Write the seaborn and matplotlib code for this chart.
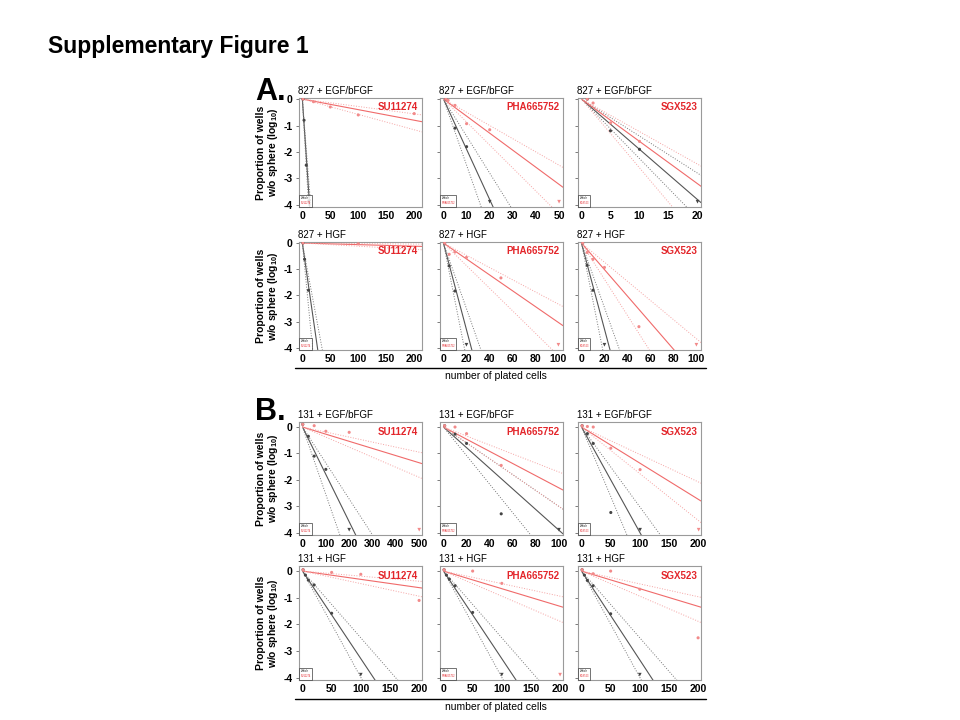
import numpy as np
import pandas as pd
import seaborn as sns
import matplotlib.pyplot as plt
from matplotlib.lines import Line2D

# panel layout: 4 rows x 3 columns, row-major
titles = ["827 + EGF/bFGF"] * 3 + ["827 + HGF"] * 3 + ["131 + EGF/bFGF"] * 3 + ["131 + HGF"] * 3
drugs = ["SU11274", "PHA665752", "SGX523"] * 4
x_max = [200, 50, 20, 200, 100, 100, 500, 100, 200, 200, 200, 200]
x_step = [50, 10, 5, 50, 20, 20, 100, 20, 50, 50, 50, 50]
x_hi = [214, 51.7, 20.6, 214, 104, 104, 512, 103.5, 204, 205, 205, 205]

# vehicle (black) points, None = no well without sphere (plotted as triangle)
ctrl_x = [[1, 3, 7, 12], [1, 5, 10, 20], [1, 5, 10, 20],
          [1, 4, 11], [1, 5, 10, 20], [1, 5, 10, 20],
          [1, 25, 50, 100, 200], [1, 10, 20, 50, 100], [1, 10, 20, 50, 100],
          [1, 5, 10, 20, 50, 100], [1, 5, 10, 20, 50, 100], [1, 5, 10, 20, 50, 100]]
ctrl_y = [[0, -0.8, -2.5, None], [0, -1.1, -1.8, None], [0, -1.2, -1.9, None],
          [0, -0.62, -1.8], [0, -0.87, -1.83, None], [0, -0.85, -1.8, None],
          [0.1, -0.35, -1.1, -1.6, None], [0.05, -0.27, -0.62, -3.28, None], [0.05, -0.25, -0.62, -3.23, None],
          [0.05, -0.15, -0.34, -0.52, -1.58, None], [0.05, -0.15, -0.3, -0.55, -1.55, None],
          [0.05, -0.15, -0.35, -0.55, -1.6, None]]
# drug (red) points
drug_x = [[1, 20, 50, 100, 200], [1, 2, 5, 10, 20, 50], [1, 2, 5, 10],
          [1, 100], [1, 5, 10, 20, 50, 100], [1, 5, 10, 20, 50, 100],
          [1, 50, 100, 200, 500], [1, 10, 20, 50], [1, 10, 20, 50, 100, 200],
          [1, 50, 100, 200], [1, 50, 100, 200], [1, 20, 50, 100, 200]]
drug_y = [[0, -0.1, -0.3, -0.6, -0.55], [0, -0.05, -0.24, -0.93, -1.16, None], [0, -0.15, -0.9, -1.6],
          [0, -0.03], [0, -0.43, -0.34, -0.55, -1.33, None], [0, -0.36, -0.62, -0.93, -3.19, None],
          [0.1, 0.05, -0.16, -0.2, None], [0.05, 0.0, -0.25, -1.45], [0.05, 0.02, 0.0, -0.8, -1.61, None],
          [0.05, -0.05, -0.12, -1.1], [0.05, 0.0, -0.46, None], [0.05, -0.1, 0.0, -0.68, -2.5]]

# fitted log10 decline per plated cell: (estimate, upper CI, lower CI)
ctrl_rate = [(0.31, 0.27, 0.36), (0.19, 0.14, 0.25), (0.19, 0.14, 0.225),
             (0.148, 0.114, 0.22), (0.165, 0.125, 0.22), (0.164, 0.123, 0.22),
             (0.0179, 0.0136, 0.0255), (0.039, 0.030, 0.054), (0.040, 0.0303, 0.0526),
             (0.0328, 0.025, 0.0398), (0.0328, 0.025, 0.0398), (0.0333, 0.025, 0.0398)]
drug_rate = [(0.004, 0.0028, 0.0058), (0.0645, 0.05, 0.087), (0.16, 0.123, 0.26),
             (0.0006, 0.0002, 0.0012), (0.0303, 0.0233, 0.043), (0.0506, 0.0365, 0.069),
             (0.0027, 0.0019, 0.0038), (0.023, 0.017, 0.030), (0.0137, 0.0104, 0.0177),
             (0.0031, 0.0019, 0.0047), (0.0066, 0.0047, 0.0094), (0.0066, 0.0048, 0.0094)]

y_ticks = [0, -1, -2, -3, -4]
floor = -3.88

sns.set_theme(style="white")
plt.rcParams["font.family"] = ["Liberation Sans", "DejaVu Sans"]
plt.rcParams["mathtext.fontset"] = "custom"
plt.rcParams["mathtext.rm"] = "Liberation Sans"
plt.rcParams["mathtext.bf"] = "Liberation Sans:bold"
plt.rcParams["axes.unicode_minus"] = False
plt.rcParams["text.color"] = "black"
plt.rcParams["xtick.color"] = "black"
plt.rcParams["ytick.color"] = "black"

W, H = 960, 720
fig = plt.figure(figsize=(9.6, 7.2), dpi=100)

col_left = [299, 440, 578]
ax_w = 123
row_top = [98, 242, 422, 566]
row_bot = [207, 350, 535, 680]
row_ytop = [0.04, 0.04, 0.19, 0.19]

BLK, BLK_DOT, BLK_PT = "#555555", "#777777", "#444444"
RED, RED_DOT, RED_PT = "#f06a6a", "#f5a3a3", "#f28a8a"


def draw_series(ax, xs, ys, rates, xr, line_c, dot_c, pt_c):
    x_line = np.array([0, xr])
    for k, r in enumerate(rates):
        df = pd.DataFrame({"x": x_line, "y": -r * x_line})
        sns.lineplot(data=df, x="x", y="y", ax=ax, color=line_c if k == 0 else dot_c,
                     linestyle="-" if k == 0 else ":", linewidth=0.8 if k == 0 else 0.7)
    pts = pd.DataFrame({"x": xs, "y": [np.nan if v is None else v for v in ys]})
    ok = pts.dropna()
    sns.scatterplot(data=ok, x="x", y="y", ax=ax, color=pt_c, s=5, edgecolor="none", zorder=4)
    miss = pts[pts["y"].isna()].assign(y=floor)
    if len(miss):
        sns.scatterplot(data=miss, x="x", y="y", ax=ax, color=pt_c, marker="v", s=7,
                        edgecolor="none", zorder=4)


for i in range(12):
    r, c = divmod(i, 3)
    l, t, b = col_left[c], row_top[r], row_bot[r]
    ax = fig.add_axes([l / W, 1 - b / H, ax_w / W, (b - t) / H])
    draw_series(ax, ctrl_x[i], ctrl_y[i], ctrl_rate[i], x_hi[i], BLK, BLK_DOT, BLK_PT)
    draw_series(ax, drug_x[i], drug_y[i], drug_rate[i], x_hi[i], RED, RED_DOT, RED_PT)

    ax.set_xlim(-0.03 * x_max[i], x_hi[i])
    ax.set_ylim(-4.08, row_ytop[r])
    ax.set_xticks(np.arange(0, x_max[i] + 1, x_step[i]))
    ax.set_yticks(y_ticks)
    ax.set_xlabel("")
    ax.set_ylabel("")
    ax.tick_params(axis="x", length=0, pad=3, labelsize=7.5)
    ax.tick_params(axis="y", length=2.5, width=0.6, color="#666666", pad=2, labelsize=7.5, left=True)
    for lab in ax.get_xticklabels() + ax.get_yticklabels():
        lab.set_fontweight("bold")
    if c > 0:
        ax.set_yticklabels([])
    for sp in ax.spines.values():
        sp.set_color("#9a9a9a")
        sp.set_linewidth(0.8)

    ax.set_title(titles[i], loc="left", fontsize=7, pad=3, x=-0.01, color="black")
    ax.text(0.97, 0.96, drugs[i], transform=ax.transAxes, ha="right", va="top",
            color="#e3262b", fontsize=7, fontweight="bold")

    handles = [Line2D([], [], color="black", lw=0), Line2D([], [], color="#e3262b", lw=0)]
    leg = ax.legend(handles, ["Vehicle", drugs[i]], loc="lower left", fontsize=1.8,
                    handlelength=0, handletextpad=0, labelcolor="linecolor",
                    borderpad=0.5, borderaxespad=0.15, fancybox=False, frameon=True)
    leg.get_frame().set_edgecolor("#333333")
    leg.get_frame().set_linewidth(0.6)

# row labels on the left
ylab = "Proportion of wells\nw/o sphere (log$_{\\mathbf{10}}$)"
for r in range(4):
    yc = (row_top[r] + row_bot[r]) / 2
    fig.text(268 / W, 1 - yc / H, ylab, rotation=90, ha="center", va="center",
             fontsize=7.5, fontweight="bold", multialignment="center", linespacing=1.1)

# x axis group labels with rule
for y_line, y_txt in [(368, 376), (699, 707)]:
    fig.add_artist(Line2D([295 / W, 706 / W], [1 - y_line / H, 1 - y_line / H],
                          color="black", lw=1.0))
    fig.text(496 / W, 1 - y_txt / H, "number of plated cells", ha="center", va="center",
             fontsize=7.5)

fig.text(255 / W, 1 - 100 / H, "A.", fontsize=22, fontweight="bold", va="baseline")
fig.text(255 / W, 1 - 420 / H, "B.", fontsize=22, fontweight="bold", va="baseline")
fig.text(48 / W, 1 - 53 / H, "Supplementary Figure 1", fontsize=16.5, fontweight="bold",
         va="baseline")

fig.savefig("out.png", dpi=100)
